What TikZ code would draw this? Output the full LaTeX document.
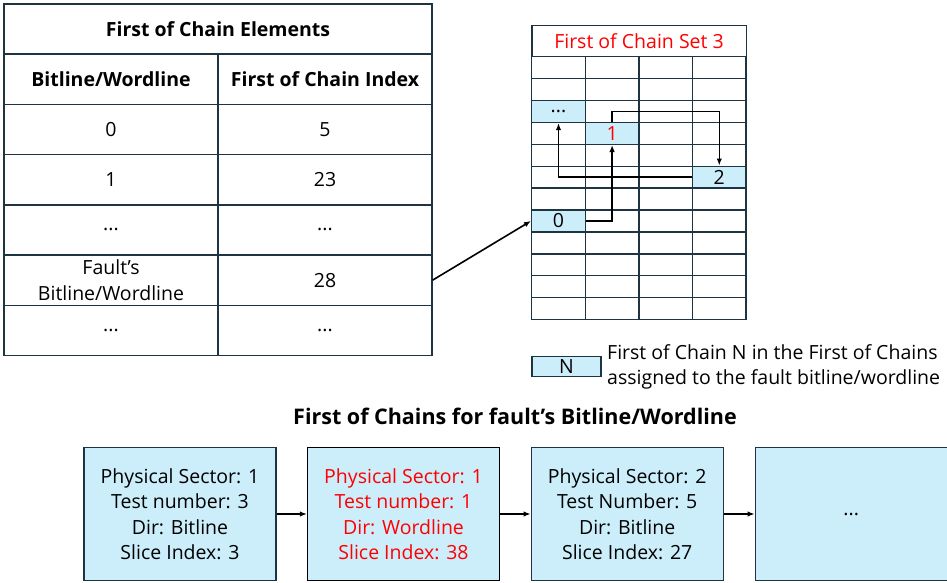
\documentclass[tikz,border=0pt]{standalone}
\usepackage{fontspec}
\setmainfont{Open Sans}
\usepackage{xcolor}
\usepackage{tikz}
\usetikzlibrary{calc}
\usetikzlibrary{positioning}
\usetikzlibrary{arrows.meta}
\definecolor{edge}{HTML}{1F3442}
\definecolor{cellblue}{HTML}{CCEEFB}

\begin{document}
\begin{tikzpicture}[x=1pt, y=-1pt]

                \def\cw{214pt}
                \def\rh{50.2pt}
                \def\gw{53.6pt}
                \def\gh{21.9pt}

                % Styles for the tables, the key and the chain boxes
                \tikzset{
                    txt/.style={font=\fontsize{19.5}{25.5}\selectfont},
                    cell/.style={txt, draw=edge, line width=1.4pt,
                        minimum width=\cw, minimum height=\rh,
                        inner sep=0pt, align=center},
                    gcell/.style={txt, draw=edge, line width=1.4pt,
                        minimum width=\gw, minimum height=\gh,
                        inner sep=0pt},
                    mark cell/.style={gcell, fill=cellblue},
                    chainbox/.style={txt, draw=edge, line width=1.4pt,
                        fill=cellblue, minimum width=192pt,
                        minimum height=133pt, align=center},
                    link/.style={-{Latex[length=7pt, width=5.5pt]},
                        line width=1.2pt}
                }

                \useasboundingbox (0, 0) rectangle (947, 583);

                % Left table
                \begin{scope}
                    \node[cell, minimum width=2*\cw] (T0) at (218, 29.1)
                    {\textbf{First of Chain Elements}};
                    \node[cell] (H1) at (111, 79.3) {\textbf{Bitline/Wordline}};
                    \node[cell] (H2) at (325, 79.3) {\textbf{First of Chain Index}};
                    \node[cell] (A1) at (111, 129.5) {0};
                    \node[cell] (A2) at (325, 129.5) {5};
                    \node[cell] (B1) at (111, 179.7) {1};
                    \node[cell] (B2) at (325, 179.7) {23};
                    \node[cell] (C1) at (111, 229.9) {...};
                    \node[cell] (C2) at (325, 229.9) {...};
                    \node[cell] (D1) at (111, 280.1) {Fault’s\\Bitline/Wordline};
                    \node[cell] (D2) at (325, 280.1) {28};
                    \node[cell] (E1) at (111, 330.3) {...};
                    \node[cell] (E2) at (325, 330.3) {...};
                \end{scope}

                % Right table: First of Chain Set 3
                \begin{scope}
                    \node[gcell, minimum width=4*\gw, minimum height=31pt] (GT)
                    at (639, 41.2) {\textcolor{red}{First of Chain Set 3}};
                    \foreach \r in {1,...,12}
                        \foreach \c in {1,...,4}
                            \node[gcell] (g-\r-\c)
                            at ({531.7 + 53.6*(\c - 0.5)}, {56.7 + 21.9*(\r - 0.5)}) {};
                    \node[mark cell] (Fdots) at (g-3-1) {...};
                    \node[mark cell] (F1) at (g-4-2) {\textcolor{red}{1}};
                    \node[mark cell] (F2) at (g-6-4) {2};
                    \node[mark cell] (F0) at (g-8-1) {0};
                \end{scope}

                \begin{scope}[link, line width=1.6pt]
                    \draw (F0.east) -| (F1.south);
                    \draw (F1.north) -- (g-3-2.center) -| (F2.north);
                    \draw (F2.west) -| (Fdots.south);
                    \draw (D2.east) -- (F0.west);
                \end{scope}

                % Key
                \node[gcell, fill=cellblue, minimum width=69pt, minimum height=20pt]
                (Key) at (566.5, 366.7) {N};
                \node[txt, align=left, right=2pt of Key] (KeyText)
                {First of Chain N in the First of Chains\\assigned to the fault bitline/wordline};

                % First of Chains for the fault
                \node[font=\fontsize{21.5}{26}\selectfont\bfseries] (CT) at (515, 416)
                {First of Chains for fault’s Bitline/Wordline};

                \node[chainbox] (P1) at (180, 514)
                {Physical Sector: 1\\Test number: 3\\Dir: Bitline\\Slice Index: 3};
                \node[chainbox, draw=black, text=red] (P2) at (403.5, 514)
                {Physical Sector: 1\\Test number: 1\\Dir: Wordline\\Slice Index: 38};
                \node[chainbox] (P3) at (627.2, 514)
                {Physical Sector: 2\\Test Number: 5\\Dir: Bitline\\Slice Index: 27};
                \node[chainbox] (P4) at (851.2, 514) {...};

                \begin{scope}[link]
                    \draw (P1) -- (P2);
                    \draw (P2) -- (P3);
                    \draw (P3) -- (P4);
                \end{scope}

\end{tikzpicture}
\end{document}
